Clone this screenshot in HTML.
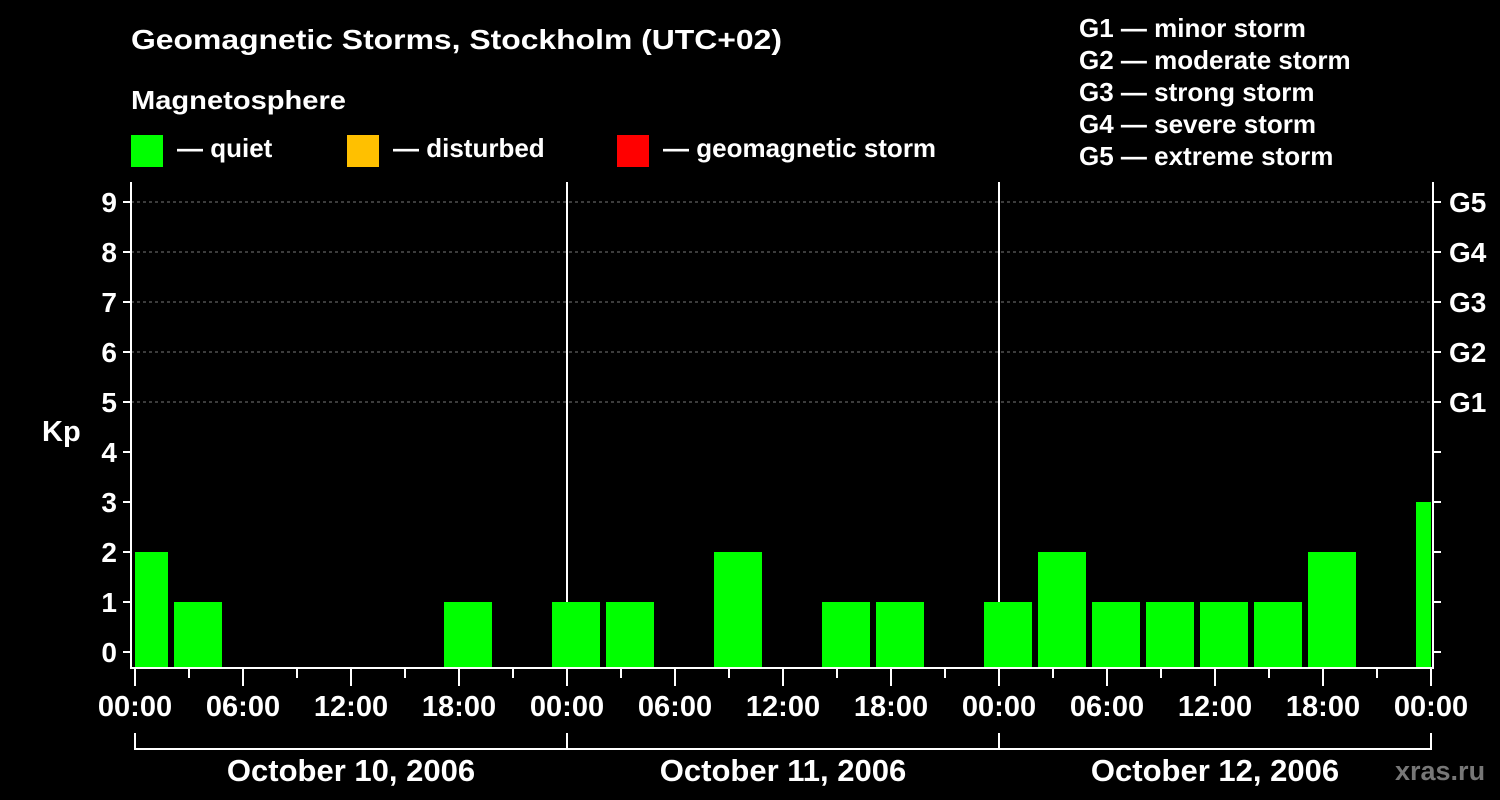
<!DOCTYPE html>
<html><head><meta charset="utf-8"><style>
html,body{margin:0;padding:0;background:#000;}
svg{display:block;font-family:"Liberation Sans",Arial,sans-serif;font-weight:bold;}
</style></head><body>
<svg id="chart" width="1500" height="800" viewBox="0 0 1500 800">
<rect x="0" y="0" width="1500" height="800" fill="#000"/>
<text x="131" y="49" fill="#fff" font-size="28" textLength="651" lengthAdjust="spacingAndGlyphs">Geomagnetic Storms, Stockholm (UTC+02)</text>
<text x="131" y="109" fill="#fff" font-size="26" textLength="215" lengthAdjust="spacingAndGlyphs">Magnetosphere</text>
<g><rect x="131" y="135" width="32" height="32" fill="#00ff00"/><text x="177" y="157" fill="#fff" font-size="26">— quiet</text></g>
<g><rect x="347" y="135" width="32" height="32" fill="#ffc000"/><text x="393" y="157" fill="#fff" font-size="26">— disturbed</text></g>
<g><rect x="617" y="135" width="32" height="32" fill="#ff0000"/><text x="663" y="157" fill="#fff" font-size="26">— geomagnetic storm</text></g>
<g fill="#fff" font-size="26">
<text x="1079" y="37">G1 — minor storm</text>
<text x="1079" y="69">G2 — moderate storm</text>
<text x="1079" y="101">G3 — strong storm</text>
<text x="1079" y="133">G4 — severe storm</text>
<text x="1079" y="165">G5 — extreme storm</text>
</g>
<text x="42" y="441" fill="#fff" font-size="29">Kp</text>
<g id="grid"></g>
<g id="bars"></g>
<g id="axes"></g>
<text x="1395" y="780" fill="#777" font-size="27">xras.ru</text>
</svg>
<script>
const hours = [0.5,3.5,6.5,9.5,12.5,15.5,18.5,21.5,24.5,27.5,30.5,33.5,36.5,39.5,42.5,45.5,48.5,51.5,54.5,57.5,60.5,63.5,66.5,69.5,72.5];
const kpValues = [2,1,0,0,0,0,1,0,1,1,0,2,0,1,1,0,1,2,1,1,1,1,2,0,3];
const timeLabels = ["00:00","06:00","12:00","18:00"];
const dayLabels = ["October 10, 2006","October 11, 2006","October 12, 2006"];
const gLabels = ["G1","G2","G3","G4","G5"];

const NS="http://www.w3.org/2000/svg";
const L=131,R=1433,T=182,B=668;
const xs=h=>135+h*18;
const ys=v=>652-v*50;
function mk(tag,attrs,parent,text){const e=document.createElementNS(NS,tag);for(const k in attrs)e.setAttribute(k,attrs[k]);if(text!==undefined)e.textContent=text;parent.appendChild(e);return e;}
const grid=document.getElementById('grid'),bars=document.getElementById('bars'),axes=document.getElementById('axes');
for(let v=5;v<=9;v++){
  const g=mk('line',{x1:L,x2:R,y1:ys(v),y2:ys(v),stroke:'#777','stroke-dasharray':'3,3','stroke-width':1},grid);
  
  
}
for(let d=1;d<3;d++){
  const l=mk('line',{x1:xs(24*d),x2:xs(24*d),y1:T,y2:B,stroke:'#fff','stroke-width':2},grid);
  
  
}
hours.forEach((h,i)=>{
  const v=kpValues[i]; if(v<=0) return;
  const x0=Math.max(L+4,xs(h)-24), x1=Math.min(R-2,xs(h)+24);
  const col=v>=5?'#ff0000':(v>=4?'#ffc000':'#00ff00');
  const r=mk('rect',{x:x0,y:ys(v),width:x1-x0,height:B-1-ys(v),fill:col},bars);
  
  
});
const fr=mk('path',{d:`M${L} ${T}V${B}H${R}V${T}`,fill:'none',stroke:'#fff','stroke-width':2},axes);


for(let v=0;v<=9;v++){
  mk('line',{x1:L-8,x2:L,y1:ys(v),y2:ys(v),stroke:'#fff','stroke-width':2},axes);
  mk('line',{x1:R,x2:R+8,y1:ys(v),y2:ys(v),stroke:'#fff','stroke-width':2},axes);
  const t=mk('text',{x:L-14,y:ys(v)+10,'text-anchor':'end',fill:'#fff','font-size':28},axes,String(v));
  
  
}
gLabels.forEach((g,i)=>{
  const t=mk('text',{x:1449,y:ys(i+5)+10,fill:'#fff','font-size':28},axes,g);
  
  
});
for(let h=0;h<=72;h+=3){
  const major=h%6===0;
  mk('line',{x1:xs(h),x2:xs(h),y1:B,y2:B+(major?18:10),stroke:'#fff','stroke-width':2},axes);
  if(major){
    const lbl=h===72?timeLabels[0]:timeLabels[(h%24)/6];
    const t=mk('text',{x:xs(h),y:716,'text-anchor':'middle',fill:'#fff','font-size':29},axes,lbl);
    
    
  }
}
const br=mk('path',{d:`M${xs(0)} 733V749H${xs(72)}V733`,fill:'none',stroke:'#fff','stroke-width':2},axes);


dayLabels.forEach((d,i)=>{
  mk('line',{x1:xs(24*(i+1)),x2:xs(24*(i+1)),y1:733,y2:749,stroke:'#fff','stroke-width':2},axes);
  const t=mk('text',{x:xs(24*i+12),y:781,'text-anchor':'middle',fill:'#fff','font-size':31},axes,d);
  
  
});
</script>
</body></html>
